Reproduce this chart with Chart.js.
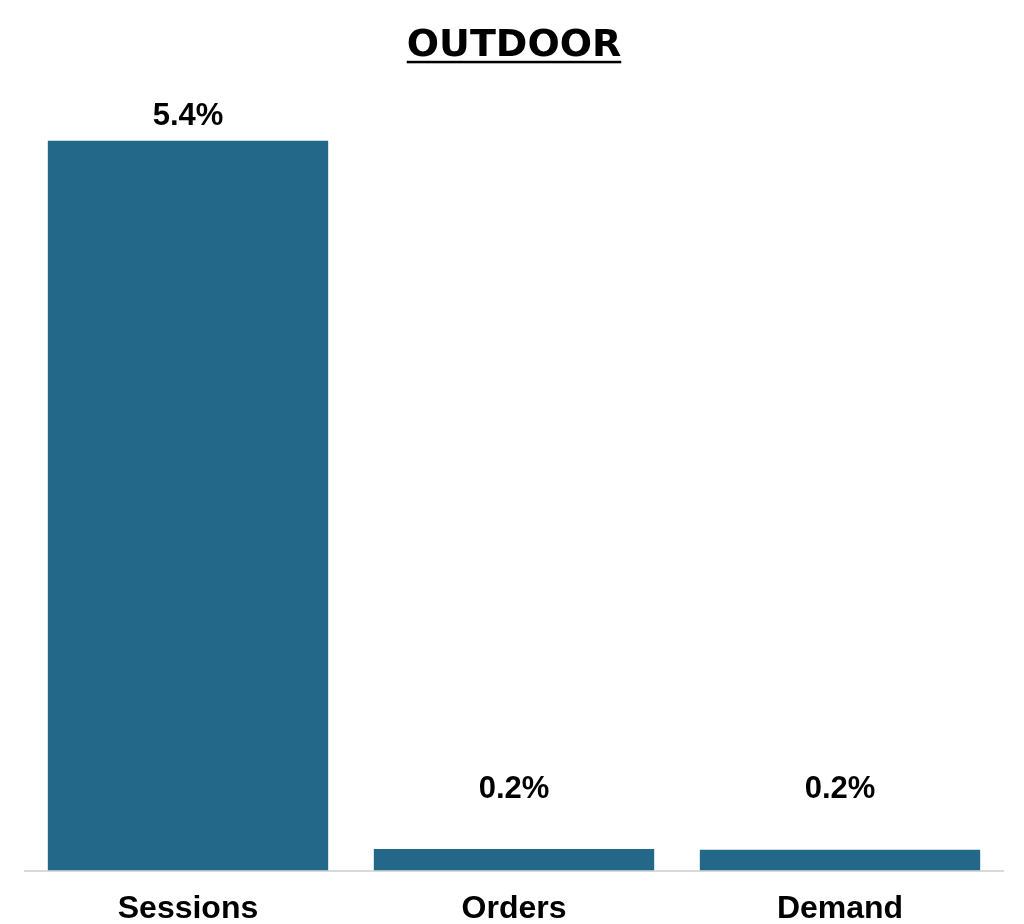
<!DOCTYPE html>
<html lang="en">
<head>
    <meta charset="UTF-8">
    <title>Outdoor</title>
    <script src="https://cdn.jsdelivr.net/npm/chart.js"></script>
    <style>
        html, body { margin: 0; padding: 0; background: #fff; overflow: hidden; }
        #wrap { width: 1024px; height: 924px; overflow: hidden; }
    </style>
</head>
<body>
    <div id="wrap">
        <canvas id="outdoorChart" width="1024" height="947"></canvas>
    </div>

    <script>
        // Chart values
        const categories = ["Sessions", "Orders", "Demand"];
        const shareValues = [5.4, 0.16, 0.155];
        const chartTitle = "OUTDOOR";

        // Draw the % labels above each bar
        const valueLabels = {
            id: "valueLabels",
            afterDatasetsDraw(chart) {
                const ctx = chart.ctx;
                const meta = chart.getDatasetMeta(0);
                ctx.save();
                ctx.font = "bold 31px 'Liberation Sans', Arial, sans-serif";
                ctx.fillStyle = "#000";
                ctx.textAlign = "center";
                ctx.textBaseline = "alphabetic";
                meta.data.forEach((bar, i) => {
                    const y = Math.min(bar.y - 16, chart.chartArea.bottom - 73);
                    ctx.fillText(shareValues[i].toFixed(1) + "%", bar.x, y);
                });
                ctx.restore();
            }
        };

        // Underline the title
        const titleUnderline = {
            id: "titleUnderline",
            afterDraw(chart) {
                const tb = chart.titleBlock;
                if (!tb) return;
                const ctx = chart.ctx;
                ctx.save();
                ctx.font = tb.options.font.weight + " " + tb.options.font.size + "px " + tb.options.font.family;
                const w = ctx.measureText(chartTitle).width;
                const cx = (chart.chartArea.left + chart.chartArea.right) / 2;
                const y = tb.top + tb.options.padding.top + tb.options.font.size * 1.2 / 2 + 15;
                ctx.fillStyle = "#000";
                ctx.fillRect(cx - w / 2, y, w, 2.5);
                ctx.restore();
            }
        };

        const ctx = document.getElementById("outdoorChart").getContext("2d");
        new Chart(ctx, {
            type: "bar",
            data: {
                labels: categories,
                datasets: [{
                    data: shareValues,
                    backgroundColor: "#236789",
                    barPercentage: 0.86,
                    categoryPercentage: 1.0
                }]
            },
            options: {
                responsive: false,
                animation: false,
                layout: { padding: { left: 25, right: 21, top: 0, bottom: 0 } },
                plugins: {
                    legend: { display: false },
                    tooltip: { enabled: false },
                    title: {
                        display: true,
                        text: chartTitle,
                        color: "#000",
                        font: { family: "'DejaVu Sans', sans-serif", size: 38, weight: "bold" },
                        padding: { top: 23, bottom: 18 }
                    }
                },
                scales: {
                    x: {
                        grid: { display: false, drawTicks: false },
                        border: { display: true, color: "#d9d9d9", width: 2 },
                        ticks: {
                            color: "#000",
                            padding: 19,
                            font: { family: "'Liberation Sans', Arial, sans-serif", size: 32, weight: "bold" }
                        }
                    },
                    y: {
                        display: false,
                        min: 0,
                        max: 5.8
                    }
                }
            },
            plugins: [valueLabels, titleUnderline]
        });
    </script>
</body>
</html>
